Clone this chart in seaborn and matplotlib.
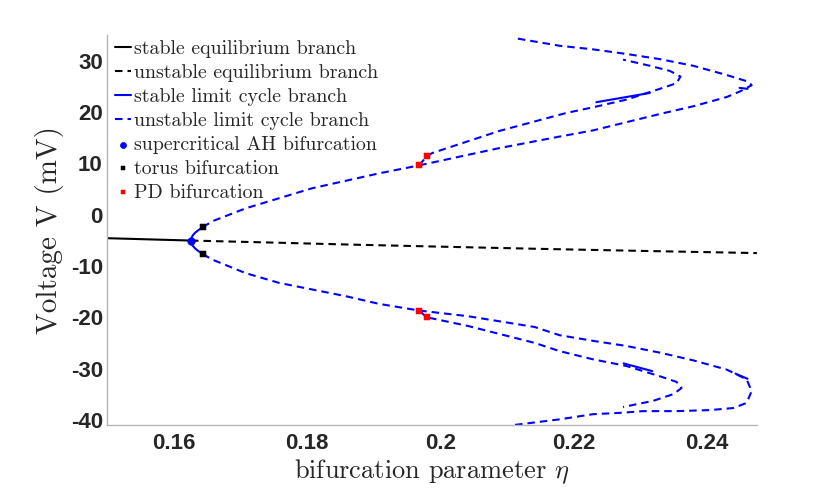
import matplotlib
matplotlib.use('Agg')
import matplotlib.pyplot as plt
import seaborn as sns
import pandas as pd
import numpy as np

sns.set_style('white')
plt.rcParams['axes.unicode_minus'] = False
plt.rcParams['mathtext.fontset'] = 'cm'
plt.rcParams['lines.dashed_pattern'] = [3.6, 2.4]

# equilibrium branch
eta_stable_eq = [0.15, 0.1626]
v_stable_eq = [-4.6, -5.06]
eta_unstable_eq = [0.1626, 0.1750, 0.1863, 0.2000, 0.2150, 0.2300, 0.2475]
v_unstable_eq = [-5.06, -5.46, -5.84, -6.25, -6.68, -7.07, -7.5]

# stable limit cycle (max / min of V) between the two torus points
eta_stable_lc = [0.16436, 0.16374, 0.16325, 0.16290, 0.16269, 0.1626,
                 0.16267, 0.16288, 0.16322, 0.16370, 0.16436]
v_stable_lc = [-2.47, -3.0, -3.5, -4.0, -4.5, -5.07, -5.6, -6.1, -6.6, -7.1, -7.67]

# unstable limit cycle pieces
eta_up_main = [0.16436, 0.1658, 0.17083, 0.18075, 0.19083, 0.19684]
v_up_main = [-2.47, -1.3, 1.23, 5.12, 8.04, 9.59]
eta_up_outer = [0.19684, 0.20865, 0.21789, 0.2229, 0.22792, 0.23293, 0.23794, 0.24296,
                0.24496, 0.24672, 0.24621, 0.24296, 0.23794, 0.23293, 0.22792, 0.2229,
                0.21789, 0.21113]
v_up_outer = [9.59, 12.9, 15.2, 16.4, 18.0, 19.6, 21.1, 22.9,
              24.0, 25.2, 25.9, 27.2, 29.0, 30.3, 31.3, 32.2, 32.9, 34.4]
eta_up_inner = [0.19684, 0.19794, 0.19880, 0.20887, 0.2189, 0.2229, 0.22792, 0.23293,
                0.23544, 0.23604, 0.23444, 0.23143, 0.22742]
v_up_inner = [9.59, 11.34, 12.0, 16.3, 19.8, 20.9, 22.4, 24.5,
              25.6, 26.9, 28.0, 29.0, 30.2]

eta_lo_main = [0.16436, 0.16576, 0.17078, 0.17579, 0.1808, 0.18582, 0.19083, 0.19684]
v_lo_main = [-7.67, -8.75, -11.4, -13.3, -14.6, -15.9, -17.4, -18.7]
eta_lo_outer = [0.19684, 0.20414, 0.21415, 0.21789, 0.2229, 0.22792, 0.23293, 0.23794,
                0.24296, 0.24596, 0.24672, 0.24596, 0.24396, 0.2404, 0.23544, 0.2304,
                0.22742, 0.2229, 0.21789, 0.2111]
v_lo_outer = [-18.7, -19.8, -21.9, -23.5, -24.6, -25.6, -26.9, -28.4,
              -30.2, -32.1, -34.4, -36.7, -37.7, -38.1, -38.3, -38.3,
              -38.6, -38.9, -39.9, -41.0]
eta_lo_inner = [0.19684, 0.19794, 0.20414, 0.21415, 0.21789, 0.2229, 0.22792, 0.23293,
                0.23544, 0.2362, 0.23494, 0.23193, 0.22742]
v_lo_inner = [-18.7, -20.0, -21.7, -25.0, -26.6, -28.2, -29.5, -31.5,
              -32.6, -33.8, -35.0, -36.3, -37.5]

# short stable pieces near the folds
stable_bits = [
    ([0.22341, 0.23143], [21.9, 23.7]),
    ([0.2449, 0.2461], [24.7, 24.5]),
    ([0.2275, 0.2318], [-29.0, -30.5]),
    ([0.2443, 0.2461], [-31.0, -32.0]),
]

# bifurcation points
eta_ah, v_ah = [0.1626], [-5.06]
eta_torus, v_torus = [0.16436, 0.16436], [-2.47, -7.67]
eta_pd = [0.19684, 0.19794, 0.19684, 0.19794]
v_pd = [9.59, 11.34, -18.7, -20.0]

fig = plt.figure(figsize=(8.3, 4.94), dpi=100)
ax = fig.add_axes([0.1289, 0.1397, 0.783, 0.7895])

lw = 1.5
kw = dict(sort=False, estimator=None, lw=lw, ax=ax)
sns.lineplot(x=eta_stable_eq, y=v_stable_eq, color='black',
             label='stable equilibrium branch', **kw)
sns.lineplot(x=eta_unstable_eq, y=v_unstable_eq, color='black',
             linestyle='--', label='unstable equilibrium branch', **kw)
sns.lineplot(x=eta_stable_lc, y=v_stable_lc, color='blue',
             label='stable limit cycle branch', **kw)
first = True
for ex, vy in [(eta_up_main, v_up_main), (eta_up_outer, v_up_outer), (eta_up_inner, v_up_inner),
               (eta_lo_main, v_lo_main), (eta_lo_outer, v_lo_outer), (eta_lo_inner, v_lo_inner)]:
    sns.lineplot(x=ex, y=vy, color='blue', linestyle='--',
                 label='unstable limit cycle branch' if first else '_nolegend_', **kw)
    first = False
for ex, vy in stable_bits:
    sns.lineplot(x=ex, y=vy, color='blue', label='_nolegend_', **kw)

sns.scatterplot(x=eta_ah, y=v_ah, color='blue', marker='o', s=30, edgecolor='blue',
                label='supercritical AH bifurcation', ax=ax, zorder=5)
sns.scatterplot(x=eta_torus, y=v_torus, color='black', marker='s', s=20, edgecolor='black',
                label='torus bifurcation', ax=ax, zorder=5)
sns.scatterplot(x=eta_pd, y=v_pd, color='red', marker='s', s=20, edgecolor='red',
                label='PD bifurcation', ax=ax, zorder=5)

ax.set_xlim(0.15, 0.2475)
ax.set_ylim(-41, 35)
ax.set_xticks([0.16, 0.18, 0.2, 0.22, 0.24])
ax.set_xticklabels(['0.16', '0.18', '0.2', '0.22', '0.24'])
ax.set_yticks([-40, -30, -20, -10, 0, 10, 20, 30])
ax.set_yticklabels(['-40', '-30', '-20', '-10', '0', '10', '20', '30'])

for s in ['top', 'right']:
    ax.spines[s].set_visible(False)
for s in ['left', 'bottom']:
    ax.spines[s].set_color('#b5b5b5')
    ax.spines[s].set_linewidth(1.0)
ax.tick_params(direction='in', length=4, color='#b5b5b5', width=1.0,
               labelsize=16, labelcolor='#262626')
ax.tick_params(axis='y', pad=3)
ax.tick_params(axis='x', pad=6)
for t in ax.get_xticklabels() + ax.get_yticklabels():
    t.set_fontfamily('Liberation Sans')
    t.set_fontweight('bold')

ax.set_xlabel(r'bifurcation parameter $\eta$', fontfamily='cmr10', fontsize=19,
              color='#262626', labelpad=2)
ax.set_ylabel('Voltage V (mV)', fontfamily='cmr10', fontsize=21, color='#262626', labelpad=5)

leg = ax.legend(loc='upper left', bbox_to_anchor=(0.004, 1.0), frameon=False,
                prop={'family': 'cmr10', 'size': 14.3}, handlelength=0.85,
                handletextpad=0.15, labelspacing=0.3, borderaxespad=0.15,
                borderpad=0.1, markerscale=0.8)

fig.savefig('out.png', dpi=100)
